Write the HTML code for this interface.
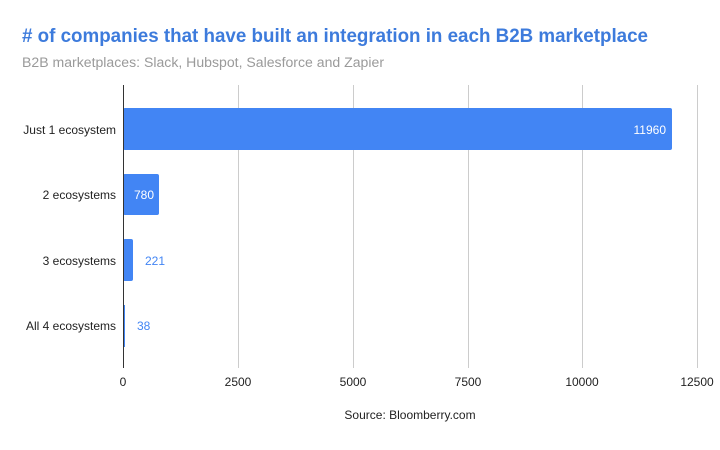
<!DOCTYPE html>
<html><head><style>body{margin:0;background:#fff}svg text{font-family:"Liberation Sans",sans-serif}</style></head><body>
<svg width="720" height="445" xmlns="http://www.w3.org/2000/svg">
<rect width="720" height="445" fill="#fff"/>
<text x="22" y="42" font-size="19" font-weight="bold" fill="#3d7bdc" textLength="626" lengthAdjust="spacingAndGlyphs">&#35; of companies that have built an integration in each B2B marketplace</text>
<text x="22" y="67" font-size="13.5" fill="#9a9a9a" textLength="362" lengthAdjust="spacingAndGlyphs">B2B marketplaces: Slack, Hubspot, Salesforce and Zapier</text>
<g stroke="#cccccc" stroke-width="1">
<line x1="238.5" y1="85" x2="238.5" y2="368"/>
<line x1="353.5" y1="85" x2="353.5" y2="368"/>
<line x1="468.5" y1="85" x2="468.5" y2="368"/>
<line x1="582.5" y1="85" x2="582.5" y2="368"/>
<line x1="697.5" y1="85" x2="697.5" y2="368"/>
</g>
<g fill="#4285f4">
<rect x="123" y="108" width="549" height="42" rx="2"/>
<rect x="123" y="174" width="36" height="41" rx="2"/>
<rect x="123" y="239" width="10" height="42" rx="2"/>
<rect x="123" y="305" width="2" height="42"/>
</g>
<line x1="123.5" y1="85" x2="123.5" y2="368" stroke="#333" stroke-width="1"/>
<g font-size="12" fill="#222" text-anchor="end">
<text x="116" y="134">Just 1 ecosystem</text>
<text x="116" y="199">2 ecosystems</text>
<text x="116" y="265">3 ecosystems</text>
<text x="116" y="330">All 4 ecosystems</text>
</g>
<g font-size="12">
<text x="666" y="134" fill="#fff" text-anchor="end">11960</text>
<text x="154" y="199" fill="#fff" text-anchor="end">780</text>
<text x="145" y="265" fill="#4285f4">221</text>
<text x="137" y="330" fill="#4285f4">38</text>
</g>
<g font-size="12" fill="#222" text-anchor="middle">
<text x="123" y="386">0</text>
<text x="238" y="386">2500</text>
<text x="353" y="386">5000</text>
<text x="468" y="386">7500</text>
<text x="582" y="386">10000</text>
<text x="697" y="386">12500</text>
</g>
<text x="410" y="419" font-size="12" fill="#222" text-anchor="middle">Source: Bloomberry.com</text>
</svg>
</body></html>
